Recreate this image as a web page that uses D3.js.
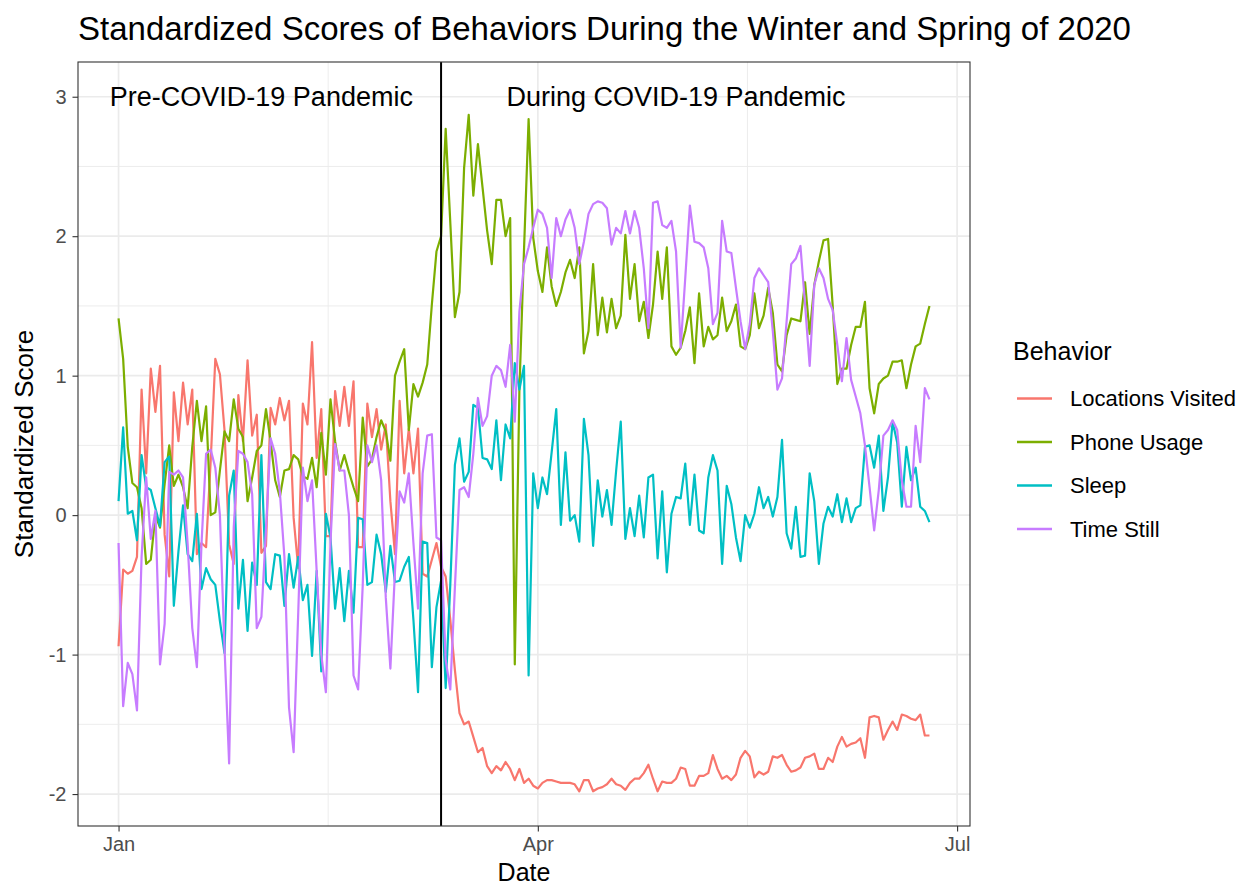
<!DOCTYPE html>
<html>
<head>
<meta charset="utf-8">
<script src="https://cdn.jsdelivr.net/npm/d3@7"></script>
<style>
  html, body { margin: 0; padding: 0; background: #ffffff; }
  svg { display: block; }
  text { font-family: "Liberation Sans", Arial, Helvetica, sans-serif; }
</style>
</head>
<body>
<script>
// ---------------- DATA ----------------
const startDate = "2020-01-01"; // daily observations from this date
const seriesNames = ["Locations Visited", "Phone Usage", "Sleep", "Time Still"];
const seriesColors = ["#F8766D", "#7CAE00", "#00BFC4", "#C77CFF"];

const locationsVisited = [
  -0.94,-0.39,-0.42,-0.40,-0.30,0.90,0.30,1.05,0.74,1.07,
  -0.14,-0.44,0.88,0.53,0.95,0.65,0.90,-0.28,-0.20,-0.23,
  0.39,1.12,1.01,0.61,-0.21,-0.35,0.86,0.53,1.11,0.57,
  0.72,-0.27,-0.22,0.77,0.65,0.84,0.68,0.82,-0.02,-0.38,
  0.80,0.65,1.24,0.41,0.76,-0.15,-0.15,0.89,0.64,0.92,
  0.64,0.96,-0.23,-0.23,0.80,0.56,0.76,0.47,0.65,0.10,
  -0.28,0.82,0.30,0.62,0.30,0.62,-0.42,-0.44,-0.32,-0.20,
  -0.37,-0.44,-0.75,-1.11,-1.42,-1.50,-1.48,-1.59,-1.70,-1.67,
  -1.80,-1.85,-1.80,-1.83,-1.77,-1.82,-1.90,-1.82,-1.92,-1.89,
  -1.94,-1.96,-1.92,-1.90,-1.90,-1.91,-1.92,-1.92,-1.92,-1.93,
  -1.98,-1.90,-1.90,-1.98,-1.96,-1.95,-1.93,-1.89,-1.93,-1.94,
  -1.97,-1.92,-1.89,-1.89,-1.85,-1.79,-1.89,-1.98,-1.91,-1.92,
  -1.92,-1.89,-1.81,-1.82,-1.94,-1.94,-1.87,-1.87,-1.85,-1.72,
  -1.82,-1.89,-1.87,-1.90,-1.86,-1.74,-1.69,-1.73,-1.88,-1.84,
  -1.86,-1.84,-1.73,-1.74,-1.72,-1.79,-1.84,-1.83,-1.81,-1.74,
  -1.73,-1.71,-1.82,-1.82,-1.74,-1.77,-1.66,-1.59,-1.66,-1.64,
  -1.63,-1.60,-1.74,-1.45,-1.44,-1.45,-1.61,-1.54,-1.48,-1.54,
  -1.43,-1.44,-1.46,-1.47,-1.43,-1.58,-1.58
];

const phoneUsage = [
  1.41,1.12,0.49,0.23,0.20,0.05,-0.35,-0.32,0.00,-0.09,
  0.22,0.50,0.21,0.29,0.20,0.05,0.49,0.82,0.53,0.78,
  0.00,0.02,0.32,0.60,0.53,0.83,0.62,0.56,0.10,0.27,
  0.46,0.50,0.76,0.53,0.25,0.13,0.32,0.33,0.43,0.40,
  0.28,0.26,0.41,0.20,0.59,0.29,0.83,0.53,0.32,0.43,
  0.31,0.20,0.10,0.70,0.35,0.40,0.56,0.68,0.60,0.39,
  1.00,1.10,1.19,0.61,0.94,0.85,0.95,1.08,1.51,1.89,
  2.00,2.77,2.10,1.42,1.60,2.49,2.87,2.29,2.66,2.35,
  2.04,1.80,2.26,2.26,2.00,2.13,-1.07,0.90,1.90,2.84,
  1.99,1.75,1.60,1.92,1.64,1.50,1.60,1.74,1.83,1.70,
  1.92,1.16,1.32,1.80,1.29,1.56,1.31,1.55,1.34,1.43,
  2.01,1.55,1.80,1.39,1.53,1.27,1.51,1.89,1.55,1.92,
  1.21,1.15,1.20,1.32,1.49,1.09,1.59,1.21,1.35,1.26,
  1.29,1.56,1.32,1.39,1.51,1.21,1.19,1.29,1.59,1.34,
  1.43,1.63,1.45,1.08,1.03,1.29,1.41,1.40,1.39,1.67,
  1.30,1.65,1.82,1.97,1.98,1.50,0.94,1.05,1.05,1.22,
  1.35,1.35,1.53,0.91,0.73,0.94,0.98,1.00,1.10,1.10,
  1.11,0.91,1.08,1.21,1.23,1.37,1.50
];

const sleep = [
  0.10,0.63,0.01,0.03,-0.18,0.43,0.20,0.18,0.05,-0.08,
  0.38,0.42,-0.65,-0.26,0.07,-0.28,-0.33,0.01,-0.53,-0.38,
  -0.46,-0.50,-0.76,-0.99,0.14,0.32,-0.67,-0.32,-0.83,-0.34,
  -0.50,0.43,-0.48,-0.53,-0.28,-0.29,-0.65,-0.28,-0.52,-0.30,
  -0.61,-0.50,-1.01,-0.40,-1.12,0.01,-0.16,-0.67,-0.38,-0.76,
  -0.40,-0.70,-0.02,-0.03,-0.50,-0.48,-0.14,-0.28,-0.55,-0.22,
  -0.48,-0.47,-0.37,-0.30,-0.75,-1.27,-0.19,-0.20,-1.09,-0.66,
  -0.47,-1.24,-0.50,0.36,0.55,0.24,0.31,0.79,0.77,0.41,
  0.40,0.33,0.68,0.25,0.65,0.55,1.09,0.90,1.07,-1.15,
  0.30,0.05,0.27,0.15,0.45,0.76,-0.07,0.45,-0.04,0.00,
  -0.19,0.69,0.43,-0.22,0.25,-0.01,0.18,-0.07,0.32,0.67,
  -0.17,0.05,-0.15,0.14,-0.16,0.27,0.29,-0.31,0.17,-0.41,
  0.01,0.13,0.12,0.37,-0.07,0.29,-0.11,-0.13,0.27,0.43,
  0.32,-0.35,0.21,0.08,-0.16,-0.33,0.00,-0.09,0.01,0.20,
  0.05,0.13,-0.01,0.13,0.54,-0.13,-0.24,0.06,-0.30,-0.29,
  0.30,0.10,-0.35,-0.06,0.06,-0.01,0.15,-0.05,0.12,-0.05,
  0.05,0.07,0.49,0.50,0.34,0.57,0.03,0.27,0.67,0.52,
  0.06,0.49,0.25,0.34,0.06,0.03,-0.05
];

const timeStill = [
  -0.20,-1.37,-1.06,-1.14,-1.40,-0.30,0.27,-0.17,0.03,-1.07,
  -0.78,0.31,0.29,0.32,0.27,-0.21,-0.81,-1.09,-0.21,0.44,
  0.47,0.34,0.00,-0.95,-1.78,-0.09,0.46,0.44,0.38,0.15,
  -0.81,-0.73,-0.10,0.55,0.44,0.17,-0.30,-1.38,-1.70,-0.70,
  0.34,0.10,0.25,-0.40,-1.00,-1.27,-0.20,0.51,0.32,0.32,
  0.00,-1.15,-1.25,-0.50,0.50,0.38,0.50,0.25,-0.59,-1.10,
  -0.40,0.17,0.09,0.30,-0.20,-0.67,0.30,0.57,0.58,-0.16,
  -0.18,-1.04,-1.25,-0.52,0.18,0.20,0.13,0.44,0.84,0.64,
  0.71,1.00,1.07,1.04,0.92,1.22,0.67,1.46,1.80,1.92,
  2.06,2.19,2.16,2.06,1.70,2.13,2.00,2.12,2.19,2.06,
  1.80,1.96,2.16,2.23,2.25,2.24,2.20,1.94,2.06,2.02,
  2.18,2.02,2.18,2.06,1.77,1.34,2.24,2.25,2.08,2.06,
  2.11,1.89,1.20,1.70,2.22,1.96,1.95,1.92,1.77,1.37,
  1.45,2.11,1.89,1.88,1.63,1.39,1.19,1.37,1.70,1.77,
  1.72,1.67,1.32,0.90,0.98,1.39,1.80,1.84,1.93,1.51,
  1.07,1.65,1.77,1.70,1.55,1.47,1.22,0.96,1.27,0.97,
  0.85,0.73,0.50,0.20,-0.11,0.18,0.57,0.61,0.68,0.61,
  0.25,0.06,0.06,0.64,0.38,0.91,0.83
];

const yTickValues = [-2, -1, 0, 1, 2, 3];
const yMinorValues = [-1.5, -0.5, 0.5, 1.5, 2.5];
const xTickDates = ["2020-01-01", "2020-04-01", "2020-07-01"];
const xTickLabels = ["Jan", "Apr", "Jul"];
const xMinorDates = ["2020-02-15T12:00:00Z", "2020-05-16T12:00:00Z"];
const pandemicDate = "2020-03-11";
const annotationLabels = ["Pre-COVID-19 Pandemic", "During COVID-19 Pandemic"];
const annotationDates = ["2020-02-01", "2020-05-01"];
const annotationY = [3, 3];

const titleText = "Standardized Scores of Behaviors During the Winter and Spring of 2020";
const xTitle = "Date";
const yTitle = "Standardized Score";
const legendTitle = "Behavior";

// ---------------- CHART ----------------
const W = 1239, H = 888;
const panel = { left: 78, right: 970, top: 62, bottom: 826 };

const svg = d3.select("body").append("svg")
  .attr("width", W).attr("height", H)
  .attr("viewBox", `0 0 ${W} ${H}`);
svg.append("rect").attr("width", W).attr("height", H).attr("fill", "#ffffff");

const parse = s => new Date(s.length === 10 ? s + "T00:00:00Z" : s);
const t0 = parse(startDate);
const allSeries = [locationsVisited, phoneUsage, sleep, timeStill];
const nDays = locationsVisited.length;
const dates = d3.range(nDays).map(i => d3.utcDay.offset(t0, i));

const xMin = dates[0], xMax = dates[nDays - 1];
const xSpan = xMax - xMin;
const x = d3.scaleUtc()
  .domain([new Date(+xMin - 0.05 * xSpan), new Date(+xMax + 0.05 * xSpan)])
  .range([panel.left, panel.right]);

const yLo = d3.min([d3.min(allSeries.flat()), d3.min(annotationY)]);
const yHi = d3.max([d3.max(allSeries.flat()), d3.max(annotationY)]);
const ySpan = yHi - yLo;
const y = d3.scaleLinear()
  .domain([yLo - 0.05 * ySpan, yHi + 0.05 * ySpan])
  .range([panel.bottom, panel.top]);

// grid
const grid = svg.append("g");
grid.selectAll(".ymin").data(yMinorValues).join("line")
  .attr("x1", panel.left).attr("x2", panel.right)
  .attr("y1", d => y(d)).attr("y2", d => y(d))
  .attr("stroke", "#EBEBEB").attr("stroke-width", 0.9);
grid.selectAll(".xmin").data(xMinorDates).join("line")
  .attr("x1", d => x(parse(d))).attr("x2", d => x(parse(d)))
  .attr("y1", panel.top).attr("y2", panel.bottom)
  .attr("stroke", "#EBEBEB").attr("stroke-width", 0.9);
grid.selectAll(".ymaj").data(yTickValues).join("line")
  .attr("x1", panel.left).attr("x2", panel.right)
  .attr("y1", d => y(d)).attr("y2", d => y(d))
  .attr("stroke", "#EBEBEB").attr("stroke-width", 1.7);
grid.selectAll(".xmaj").data(xTickDates).join("line")
  .attr("x1", d => x(parse(d))).attr("x2", d => x(parse(d)))
  .attr("y1", panel.top).attr("y2", panel.bottom)
  .attr("stroke", "#EBEBEB").attr("stroke-width", 1.7);

// lines
svg.append("clipPath").attr("id", "pclip").append("rect")
  .attr("x", panel.left).attr("y", panel.top)
  .attr("width", panel.right - panel.left).attr("height", panel.bottom - panel.top);
const lineGen = d3.line().x((d, i) => x(dates[i])).y(d => y(d));
const lines = svg.append("g").attr("clip-path", "url(#pclip)");
allSeries.forEach((vals, k) => {
  lines.append("path")
    .datum(vals)
    .attr("d", lineGen)
    .attr("fill", "none")
    .attr("stroke", seriesColors[k])
    .attr("stroke-width", 2.2)
    .attr("stroke-linejoin", "round");
});

// vertical line
svg.append("line")
  .attr("x1", x(parse(pandemicDate))).attr("x2", x(parse(pandemicDate)))
  .attr("y1", panel.top).attr("y2", panel.bottom)
  .attr("stroke", "#000000").attr("stroke-width", 2);

// annotations
svg.selectAll(".annot").data(annotationLabels).join("text")
  .attr("x", (d, i) => x(parse(annotationDates[i])))
  .attr("y", (d, i) => y(annotationY[i]))
  .attr("dy", "0.35em")
  .attr("text-anchor", "middle")
  .attr("font-size", 27)
  .attr("fill", "#000000")
  .text(d => d);

// panel border
svg.append("rect")
  .attr("x", panel.left).attr("y", panel.top)
  .attr("width", panel.right - panel.left).attr("height", panel.bottom - panel.top)
  .attr("fill", "none").attr("stroke", "#333333").attr("stroke-width", 1.1);

// y axis
const yAxis = d3.axisLeft(y).tickValues(yTickValues).tickSize(5.5).tickPadding(6)
  .tickFormat(d => d < 0 ? "-" + Math.abs(d) : String(d));
const gy = svg.append("g").attr("transform", `translate(${panel.left},0)`).call(yAxis);
gy.select(".domain").remove();
gy.selectAll(".tick line").attr("stroke", "#333333").attr("stroke-width", 1.1);
gy.selectAll(".tick text").attr("font-size", 20).attr("fill", "#4D4D4D")
  .attr("font-family", "'Liberation Sans', Arial, sans-serif");

// x axis
const xAxis = d3.axisBottom(x).tickValues(xTickDates.map(parse)).tickSize(5.5).tickPadding(5)
  .tickFormat((d, i) => xTickLabels[i]);
const gx = svg.append("g").attr("transform", `translate(0,${panel.bottom})`).call(xAxis);
gx.select(".domain").remove();
gx.selectAll(".tick line").attr("stroke", "#333333").attr("stroke-width", 1.1);
gx.selectAll(".tick text").attr("font-size", 20).attr("fill", "#4D4D4D")
  .attr("font-family", "'Liberation Sans', Arial, sans-serif");

// titles
svg.append("text")
  .attr("x", panel.left).attr("y", 40)
  .attr("font-size", 33).attr("fill", "#000000")
  .text(titleText);
svg.append("text")
  .attr("x", (panel.left + panel.right) / 2).attr("y", 881)
  .attr("text-anchor", "middle").attr("font-size", 25).attr("fill", "#000000")
  .text(xTitle);
svg.append("text")
  .attr("transform", `translate(33,${(panel.top + panel.bottom) / 2}) rotate(-90)`)
  .attr("text-anchor", "middle").attr("font-size", 26).attr("fill", "#000000")
  .text(yTitle);

// legend
const lg = svg.append("g");
lg.append("text").attr("x", 1013).attr("y", 360)
  .attr("font-size", 25).attr("fill", "#000000").text(legendTitle);
const keyY0 = 398.5, keyStep = 43.5;
seriesNames.forEach((name, k) => {
  const ky = keyY0 + k * keyStep;
  lg.append("line").attr("x1", 1017).attr("x2", 1052).attr("y1", ky).attr("y2", ky)
    .attr("stroke", seriesColors[k]).attr("stroke-width", 2.4);
  lg.append("text").attr("x", 1070).attr("y", ky).attr("dy", "0.35em")
    .attr("font-size", 22).attr("fill", "#000000").text(name);
});
</script>
</body>
</html>
